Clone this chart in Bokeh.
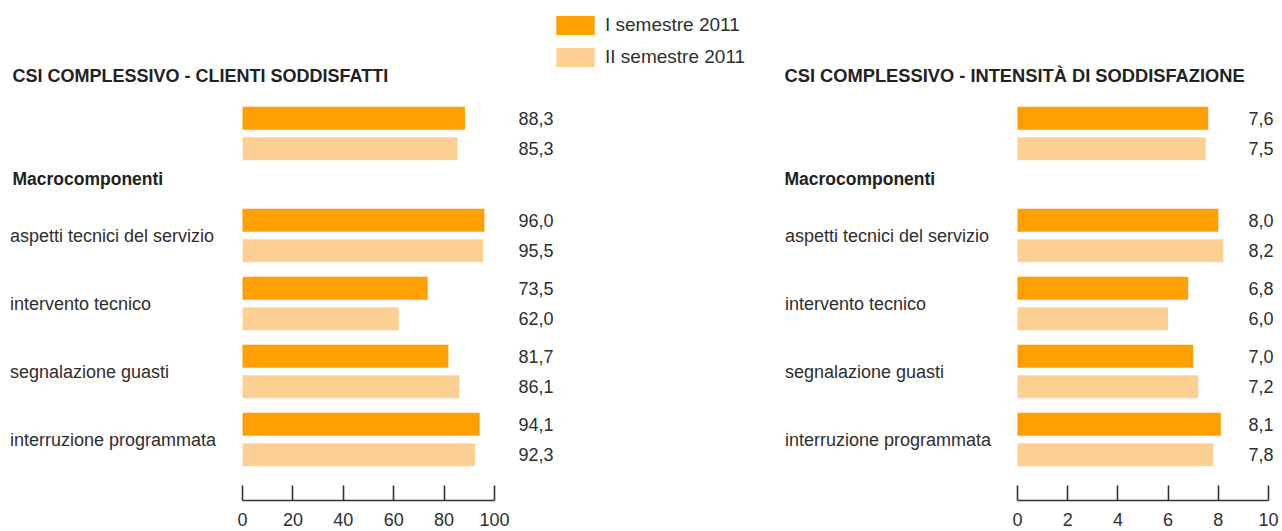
from bokeh.plotting import figure
from bokeh.models import (Range1d, LinearAxis, FixedTicker, ColumnDataSource,
                          Label, Legend, LegendItem)
from bokeh.layouts import row
from bokeh.embed import file_html
from bokeh.resources import INLINE
from bokeh.core.properties import value

# ---------------- data ----------------
categories = ["aspetti tecnici del servizio", "intervento tecnico",
              "segnalazione guasti", "interruzione programmata"]
series_names = ["I semestre 2011", "II semestre 2011"]

left_title = "CSI COMPLESSIVO - CLIENTI SODDISFATTI"
left_overall = [88.3, 85.3]
left_s1 = [96.0, 73.5, 81.7, 94.1]
left_s2 = [95.5, 62.0, 86.1, 92.3]
left_ticks = [0, 20, 40, 60, 80, 100]

right_title = "CSI COMPLESSIVO - INTENSITÀ DI SODDISFAZIONE"
right_overall = [7.6, 7.5]
right_s1 = [8.0, 6.8, 7.0, 8.1]
right_s2 = [8.2, 6.0, 7.2, 7.8]
right_ticks = [0, 2, 4, 6, 8, 10]

section_label = "Macrocomponenti"

# ---------------- style ----------------
C1 = "#FFA000"
C2 = "#FCD092"
TXT = "#2e2e2e"
FONT = "Liberation Sans"
H = 531
PX_PER_ROW = 68.0
ROW0 = 133.0                 # centre of first group, in pixels from top
FRAME_BOTTOM = 500           # axis line, pixels from top
BAR_H = 23 / PX_PER_ROW
OFF = 15.3 / PX_PER_ROW


def fmt(v):
    return f"{v:.1f}".replace(".", ",")


def make_panel(title, overall, s1, s2, ticks, width, zero_px, px_per_unit,
               title_px, cat_px, value_px, title_size, legend=False):
    x0 = -zero_px / px_per_unit
    x1 = x0 + width / px_per_unit
    y_top = -ROW0 / PX_PER_ROW
    y_bot = (FRAME_BOTTOM - ROW0) / PX_PER_ROW
    p = figure(width=width, height=H, output_backend="svg", toolbar_location=None,
               x_axis_type=None, y_axis_type=None,
               x_range=Range1d(x0, x1), y_range=Range1d(y_bot, y_top),
               min_border_left=0, min_border_right=0, min_border_top=0,
               min_border_bottom=H - FRAME_BOTTOM)
    p.outline_line_color = None
    p.background_fill_color = "white"

    # group positions: overall at 0, components after the section header
    pos = [0.0] + [1.5 + i for i in range(len(categories))]
    v1 = [overall[0]] + list(s1)
    v2 = [overall[1]] + list(s2)

    src1 = ColumnDataSource(dict(y=[q - OFF for q in pos], v=v1,
                                 t=[fmt(v) for v in v1]))
    src2 = ColumnDataSource(dict(y=[q + OFF for q in pos], v=v2,
                                 t=[fmt(v) for v in v2]))
    r1 = p.hbar(y="y", left=0, right="v", height=BAR_H, color=C1,
                line_color=None, source=src1)
    r2 = p.hbar(y="y", left=0, right="v", height=BAR_H, color=C2,
                line_color=None, source=src2)

    vx = x0 + value_px / px_per_unit
    for s in (src1, src2):
        p.text(x=vx, y="y", text="t", source=s, text_align="right",
               text_baseline="middle", text_font=value(FONT),
               text_font_size=value("18px"), text_color=TXT)

    cx = x0 + cat_px / px_per_unit
    cat_src = ColumnDataSource(dict(y=pos[1:], t=categories))
    p.text(x=cx, y="y", text="t", source=cat_src,
           text_align="left", text_baseline="middle", text_font=value(FONT),
           text_font_size=value("18px"), text_color=TXT)

    tx = x0 + title_px / px_per_unit
    p.add_layout(Label(x=tx, y=(75 - ROW0) / PX_PER_ROW, text=title,
                       text_font=FONT, text_font_style="bold",
                       text_font_size=title_size, text_color="#222222",
                       text_baseline="middle"))
    p.add_layout(Label(x=tx, y=(178.5 - ROW0) / PX_PER_ROW,
                       text=section_label, text_font=FONT,
                       text_font_style="bold", text_font_size="17.5px",
                       text_color="#222222", text_baseline="middle"))

    ax = LinearAxis(ticker=FixedTicker(ticks=ticks), bounds=(ticks[0], ticks[-1]),
                    major_tick_in=15, major_tick_out=0,
                    minor_tick_line_color=None,
                    axis_line_color="#333333", axis_line_width=1.6,
                    major_tick_line_color="#333333", major_tick_line_width=1.6,
                    major_label_text_font=FONT,
                    major_label_text_font_size="18px",
                    major_label_text_color=TXT, major_label_standoff=12)
    p.add_layout(ax, "below")

    if legend:
        lg = Legend(items=[LegendItem(label=series_names[0], renderers=[r1]),
                           LegendItem(label=series_names[1], renderers=[r2])],
                    location=(551, FRAME_BOTTOM - 69), orientation="vertical",
                    glyph_width=48, glyph_height=24, label_height=24,
                    label_standoff=6, spacing=8, padding=0, margin=0,
                    border_line_color=None, background_fill_alpha=0,
                    label_text_font=FONT, label_text_font_size="19px",
                    label_text_color=TXT)
        p.add_layout(lg)
    return p


left = make_panel(left_title, left_overall, left_s1, left_s2, left_ticks,
                  width=770, zero_px=242, px_per_unit=2.52,
                  title_px=12, cat_px=9.5, value_px=553, title_size="18px",
                  legend=True)
right = make_panel(right_title, right_overall, right_s1, right_s2, right_ticks,
                   width=512, zero_px=247, px_per_unit=25.1,
                   title_px=14, cat_px=14.5, value_px=503, title_size="18.3px")

layout = row(left, right)
open("out.html", "w").write(file_html(layout, INLINE))
